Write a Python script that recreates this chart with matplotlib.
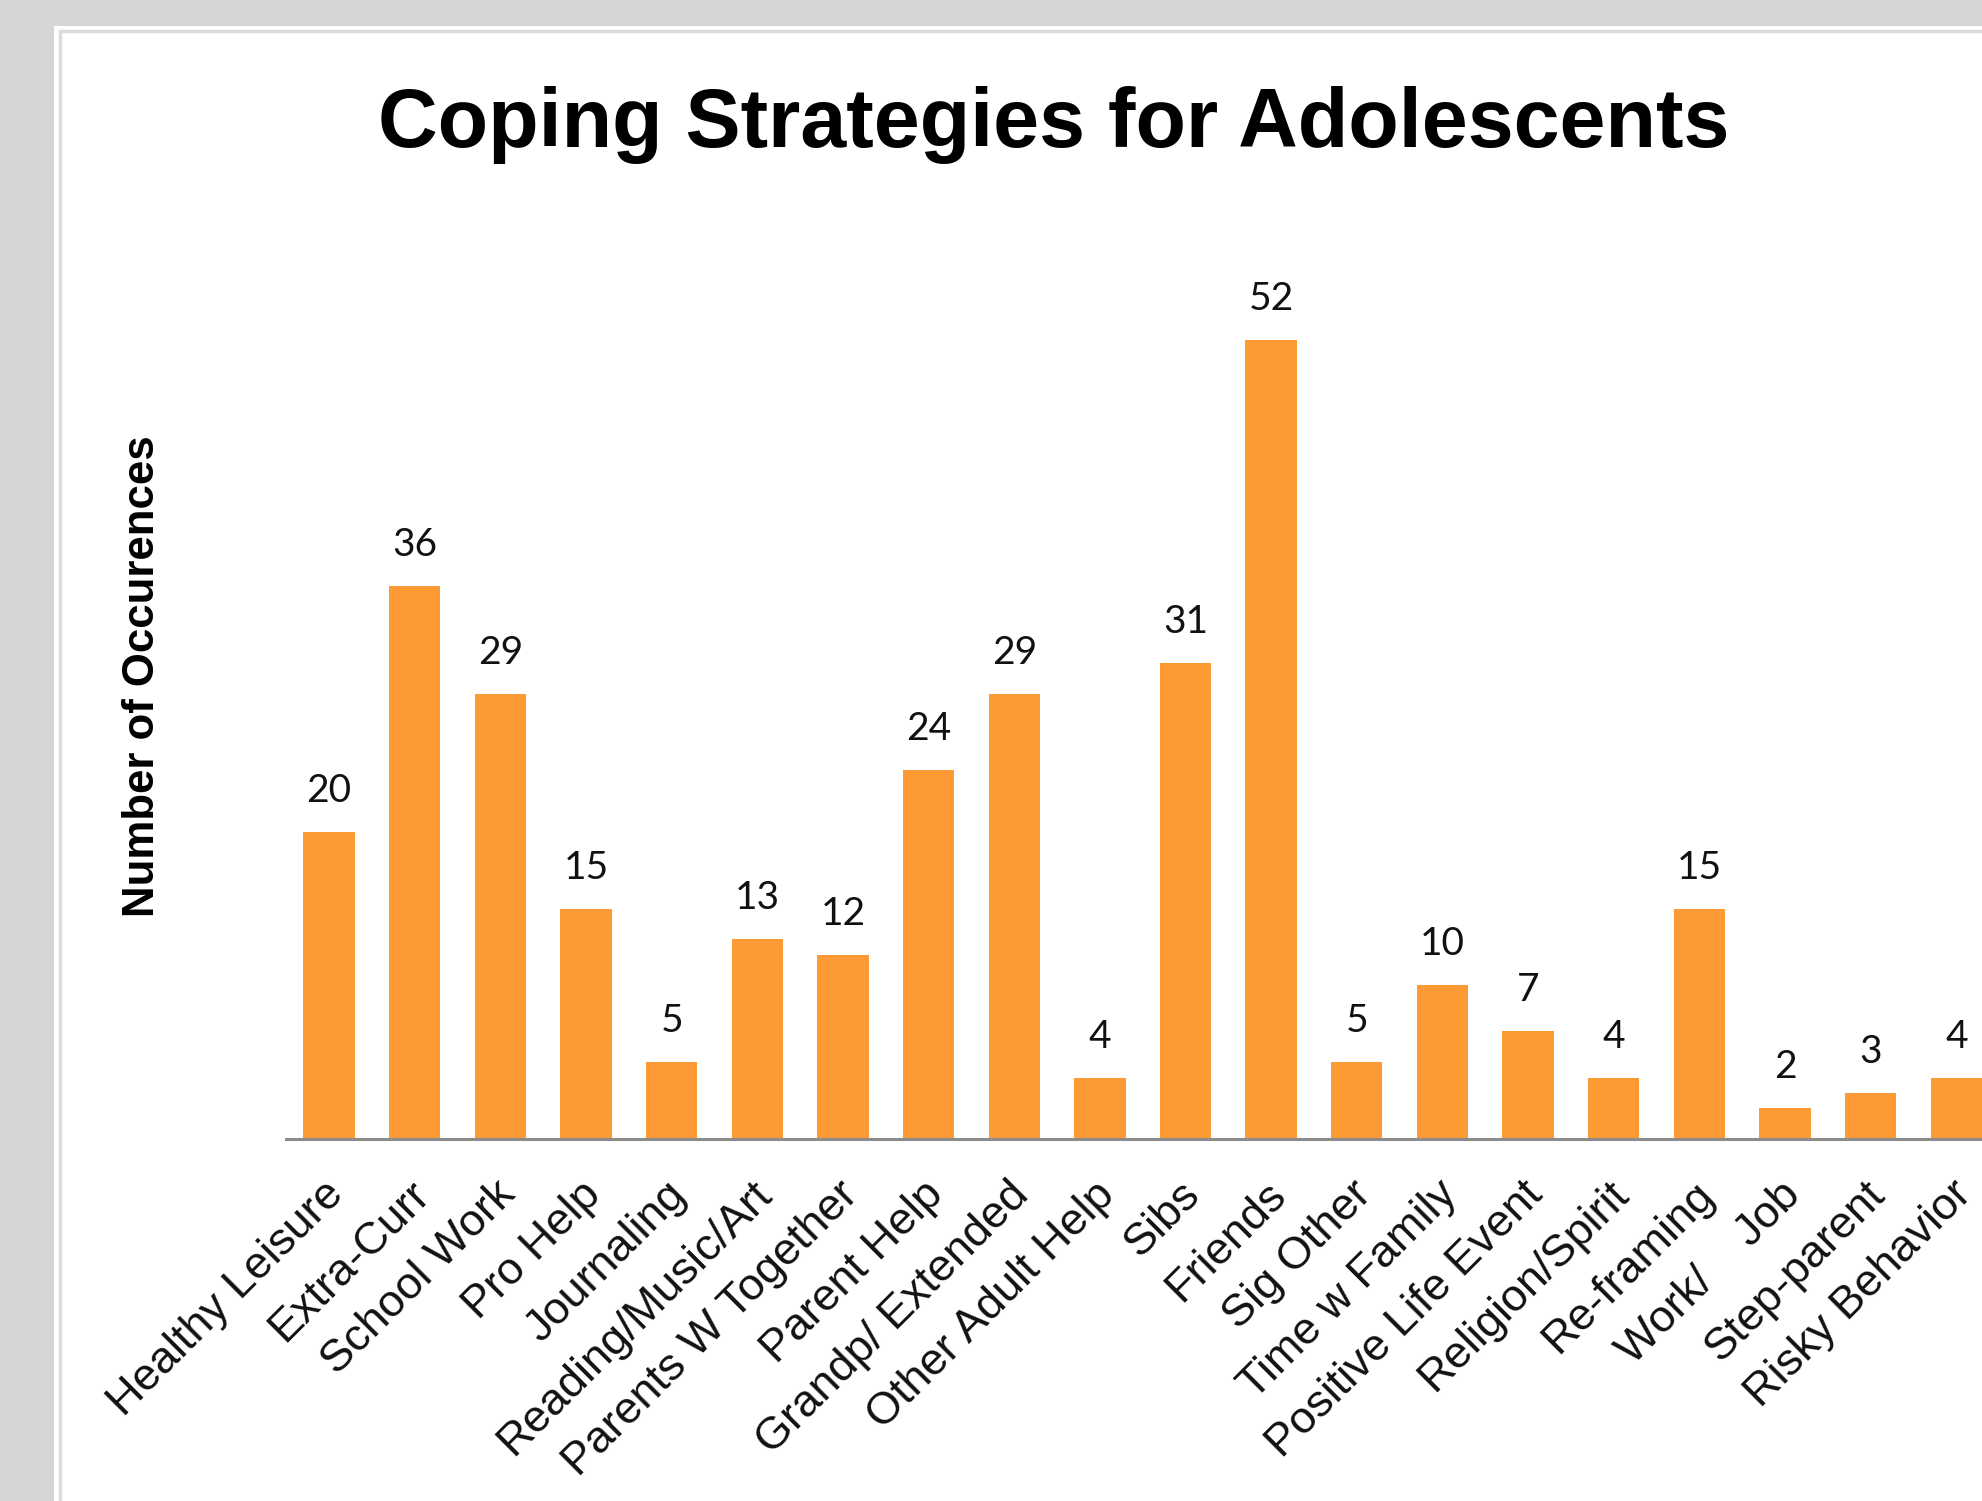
import numpy as np
import matplotlib
matplotlib.use('Agg')
from matplotlib import pyplot as plt
from matplotlib.patches import Rectangle
from matplotlib.transforms import ScaledTranslation

categories = ['Healthy Leisure', 'Extra-Curr', 'School Work', 'Pro Help', 'Journaling',
              'Reading/Music/Art', 'Parents W Together', 'Parent Help', 'Grandp/ Extended',
              'Other Adult Help', 'Sibs', 'Friends', 'Sig Other', 'Time w Family',
              'Positive Life Event', 'Religion/Spirit', 'Re-framing', 'Work/    Job',
              'Step-parent', 'Risky Behavior']
counts = [20, 36, 29, 15, 5, 13, 12, 24, 29, 4, 31, 52, 5, 10, 7, 4, 15, 2, 3, 4]

W, H = 1982, 1501
fig = plt.figure(figsize=(W / 100, H / 100), dpi=100, facecolor='#d6d6d6')

# white chart panel with its faint inner frame (behind the axes)
fig.patches.append(Rectangle((54 / W, 0), 1, 1 - 26 / H, transform=fig.transFigure,
                             facecolor='white', edgecolor='none', zorder=-2))
fig.patches.append(Rectangle((59.5 / W, -0.1), 1, 1.1 - 31.5 / H, transform=fig.transFigure,
                             facecolor='none', edgecolor='#dcdcdc', lw=2.5, zorder=-1))

ax = fig.add_axes([286 / W, (H - 1139) / H, 1 - 286 / W, 921.6 / H])
ax.set_facecolor('none')

x = np.arange(len(counts))
bars = ax.bar(x, counts, width=0.6, color='#fe9a36', zorder=2)
ax.set_xlim(-0.502, (W - 329) / 85.65)
ax.set_ylim(0, 60)

for xi, v in zip(x, counts):
    ax.annotate(str(v), (xi, v), xytext=(0, 21.6), textcoords='offset points',
                ha='center', va='baseline', fontsize=28, family='Lato', color='#111111')

for s in ['top', 'right', 'left']:
    ax.spines[s].set_visible(False)
ax.spines['bottom'].set_color('#8c8c8c')
ax.spines['bottom'].set_linewidth(2.2)
ax.set_yticks([])
ax.set_xticks(x)
ax.set_xticklabels(categories, rotation=45, ha='right', va='top', rotation_mode='anchor',
                   fontsize=32.5, family='Liberation Sans', color='#111111')
ax.tick_params(axis='x', length=0, pad=25)
# nudge labels a little left
shift = ScaledTranslation(-6 / 100, 0, fig.dpi_scale_trans)
for lbl in ax.get_xticklabels():
    lbl.set_transform(lbl.get_transform() + shift)

fig.text(143 / W, (H - 676) / H, 'Number of Occurences', rotation=90, ha='center', va='center',
         fontsize=31.5, fontweight='bold', family='Liberation Sans', color='black')
fig.text(1054 / W, (H - 147) / H, 'Coping Strategies for Adolescents', ha='center',
         va='baseline', fontsize=59.5, fontweight='bold', family='Liberation Sans', color='black')

fig.savefig('out.png', dpi=100, facecolor=fig.get_facecolor())
